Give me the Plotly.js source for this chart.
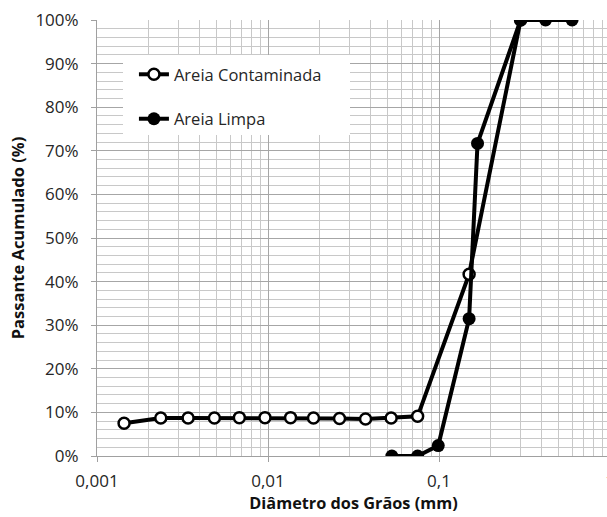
<!DOCTYPE html>
<html><head><meta charset="utf-8">
<script src="https://cdn.plot.ly/plotly-3.0.1.min.js"></script>
<style>html,body{margin:0;padding:0;overflow:hidden;background:#fff;}#chart{width:620px;height:517px;}</style>
</head><body><div id="chart"></div>
<script>
const contName = 'Areia Contaminada';
const contX = [0.00144, 0.00236, 0.00341, 0.00486, 0.0068, 0.0096, 0.01355, 0.01845, 0.0262, 0.0372, 0.0525, 0.075, 0.15, 0.3];
const contY = [0.075, 0.087, 0.087, 0.087, 0.088, 0.088, 0.088, 0.087, 0.086, 0.085, 0.087, 0.091, 0.417, 1.0];
const limpaName = 'Areia Limpa';
const limpaX = [0.053, 0.075, 0.099, 0.15, 0.168, 0.3, 0.42, 0.6];
const limpaY = [0, 0, 0.024, 0.315, 0.717, 1, 1, 1];
const xTickVals = [0.001, 0.01, 0.1, 1];
const xTickText = ['0,001', '0,01', '0,1', '1'];
const xTitle = 'Diâmetro dos Grãos (mm)';
const yTitle = 'Passante Acumulado (%)';

// minor log grid lines at 2..9 of each decade
const decades = [0.001, 0.01, 0.1];
const minorMult = [2, 3, 4, 5, 6, 7, 8, 9];
const xMinorVals = [];
decades.forEach(d => minorMult.forEach(m => xMinorVals.push(+(d * m).toPrecision(3))));

const FONT = 'Open Sans, Noto Sans, sans-serif';
const FS = 17;
const traces = [
  {x: contX, y: contY, name: contName, type: 'scatter', mode: 'lines+markers', legendgroup: 'a',
   line: {color: '#000', width: 4},
   marker: {symbol: 'circle', size: 11, color: '#fff', line: {color: '#000', width: 2.5}}},
  {x: limpaX, y: limpaY, name: limpaName, type: 'scatter', mode: 'lines+markers', legendgroup: 'b',
   line: {color: '#000', width: 4},
   marker: {symbol: 'circle', size: 13, color: '#000', line: {color: '#000', width: 0}}}
];
const layout = {
  width: 620, height: 517,
  margin: {l: 97, r: 10, t: 20, b: 61},
  paper_bgcolor: '#fff', plot_bgcolor: '#fff',
  font: {family: FONT, size: FS, color: '#262626'},
  showlegend: true,
  legend: {x: 0.072, y: 0.915, xanchor: 'left', yanchor: 'top', bgcolor: 'rgba(0,0,0,0)',
    font: {family: FONT, size: 16.5, color: '#262626'}, tracegroupgap: 20, traceorder: 'grouped',
    itemwidth: 30, borderwidth: 0},
  shapes: [{type: 'rect', xref: 'paper', yref: 'paper', layer: 'above',
    x0: (123 - 97) / 513, x1: (350 - 97) / 513, y0: (456 - 135) / 436, y1: (456 - 55) / 436,
    fillcolor: '#fff', line: {width: 0}}],
  xaxis: {type: 'log', range: [-3, 0], tickvals: xTickVals, ticktext: xTickText,
    showgrid: true, gridcolor: '#a6a6a6', gridwidth: 1,
    minor: {tickvals: xMinorVals, showgrid: true, gridcolor: '#c8c8c8', gridwidth: 1, ticks: ''},
    showline: true, linecolor: '#a0a0a0', linewidth: 1,
    ticks: 'outside', ticklen: 5, tickcolor: '#a0a0a0', ticklabelstandoff: 5,
    zeroline: false, tickfont: {family: FONT, size: FS, color: '#262626'},
    title: {text: '<b>' + xTitle + '</b>', font: {family: FONT, size: 16.3, color: '#111'}, standoff: 5}},
  yaxis: {range: [0, 1], dtick: 0.1, tickformat: '.0%',
    showgrid: true, gridcolor: '#a6a6a6', gridwidth: 1,
    minor: {dtick: 0.02, showgrid: true, gridcolor: '#c8c8c8', gridwidth: 1},
    showline: true, linecolor: '#a0a0a0', linewidth: 1,
    ticks: 'outside', ticklen: 5, tickcolor: '#a0a0a0', ticklabelstandoff: 9,
    zeroline: false, tickfont: {family: FONT, size: FS, color: '#262626'},
    title: {text: '<b>' + yTitle + '</b>', font: {family: FONT, size: 16.5, color: '#111'}, standoff: 6}}
};
Plotly.newPlot('chart', traces, layout, {displayModeBar: false, staticPlot: true});
</script></body></html>
